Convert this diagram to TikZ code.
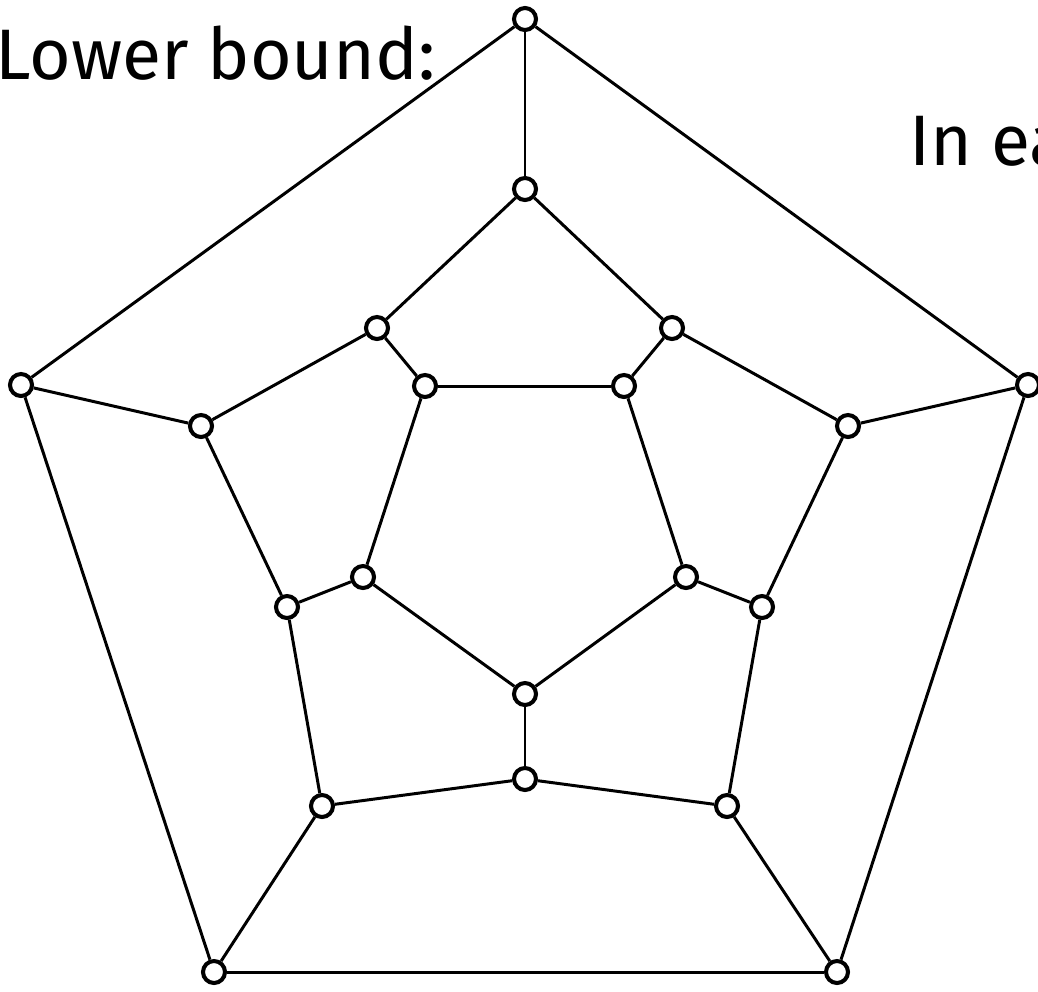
\documentclass[tikz,border=0pt]{standalone}
\usepackage{fontspec}
\setmainfont{Fira Sans}
\tikzset{
  vertex/.style={
    circle,
    draw=black,
    fill=white,
    line width=2.3pt,
    inner sep=0pt,
    minimum size=0.44cm
  },
  edge/.style={
    line width=1.7pt,
    draw=black
  },
  heading/.style={
    anchor=base west,
    inner sep=0pt,
    font=\fontsize{40.7}{48}\selectfont
  }
}

\begin{document}
\begin{tikzpicture}[x=0.02cm,y=-0.02cm]
  \useasboundingbox (0,0) rectangle (1038,991);

  % outer pentagon
  \node[vertex] (o1) at (525,19) {};
  \node[vertex] (o2) at (1028,385) {};
  \node[vertex] (o3) at (837,972) {};
  \node[vertex] (o4) at (214,972) {};
  \node[vertex] (o5) at (21,385) {};

  % middle ring
  \node[vertex] (m1) at (525,189) {};
  \node[vertex] (m2) at (672,328) {};
  \node[vertex] (m3) at (848,426) {};
  \node[vertex] (m4) at (762,607) {};
  \node[vertex] (m5) at (727,806) {};
  \node[vertex] (m6) at (525,779) {};
  \node[vertex] (m7) at (322,806) {};
  \node[vertex] (m8) at (287,607) {};
  \node[vertex] (m9) at (201,426) {};
  \node[vertex] (m10) at (377,328) {};

  % inner pentagon
  \node[vertex] (i1) at (425,386) {};
  \node[vertex] (i2) at (624,386) {};
  \node[vertex] (i3) at (686,577) {};
  \node[vertex] (i4) at (525,694) {};
  \node[vertex] (i5) at (363,577) {};

  \node[heading] (lower) at (-5,79) {Lower bound:};
  \node[heading] (each) at (909,165) {In ea};

  \foreach \a/\b in {o1/o2,o2/o3,o3/o4,o4/o5,o5/o1,
                     o1/m1,o2/m3,o3/m5,o4/m7,o5/m9,
                     m1/m2,m2/m3,m3/m4,m4/m5,m5/m6,m6/m7,m7/m8,m8/m9,m9/m10,m10/m1,
                     m2/i2,m4/i3,m6/i4,m8/i5,m10/i1,
                     i1/i2,i2/i3,i3/i4,i4/i5,i5/i1}
    \draw[edge] (\a) -- (\b);
\end{tikzpicture}
\end{document}
